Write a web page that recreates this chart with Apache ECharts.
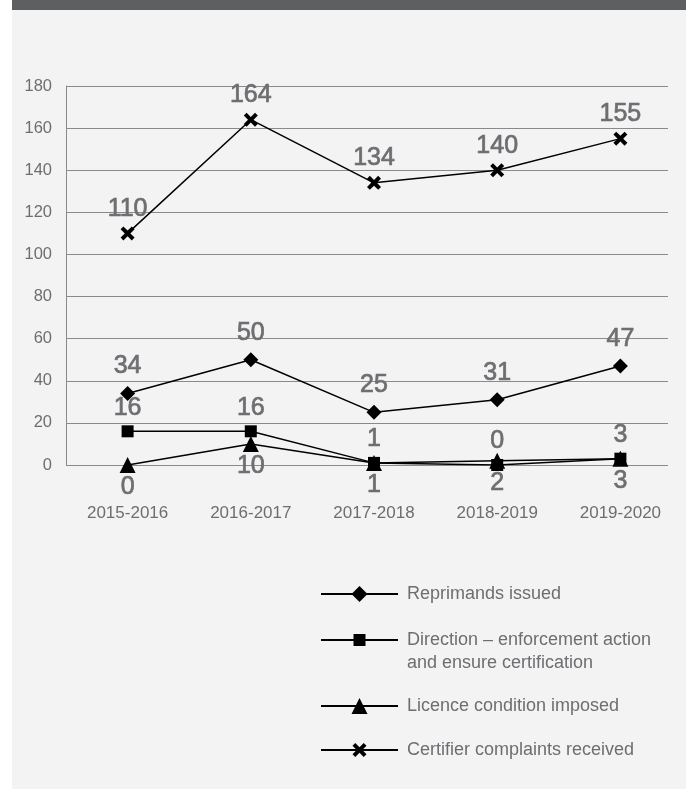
<!DOCTYPE html>
<html>
<head>
<meta charset="utf-8">
<script src="https://cdn.jsdelivr.net/npm/echarts@6/dist/echarts.min.js"></script>
<style>
  html, body { margin: 0; padding: 0; background: #ffffff; }
  #chart { width: 691px; height: 789px; }
</style>
</head>
<body>
<div id="chart"></div>
<script>
// Financial years on the horizontal axis
const categories = ['2015-2016', '2016-2017', '2017-2018', '2018-2019', '2019-2020'];

// Yearly counts per measure
const reprimands = [34, 50, 25, 31, 47];
const directions = [16, 16, 1, 0, 3];
const licenceConditions = [0, 10, 1, 2, 3];
const complaints = [110, 164, 134, 140, 155];

// Series names shown in the legend
const seriesNames = [
  'Reprimands issued',
  'Direction – enforcement action and ensure certification',
  'Licence condition imposed',
  'Certifier complaints received'
];

// Value axis range and step
const yMin = 0;
const yMax = 180;
const yStep = 20;

const textGrey = '#6d6e71';
const gridGrey = '#8a8a8a';
const bodyFont = '"Liberation Sans", Arial, sans-serif';

// Bold "x" marker
const crossPath = 'path://M2,0L5,3L8,0L10,2L7,5L10,8L8,10L5,7L2,10L0,8L3,5L0,2Z';

function lineSeries(name, data, symbol, size, position, distance) {
  return {
    type: 'line',
    name: name,
    data: data,
    xAxisIndex: 0,
    yAxisIndex: 0,
    symbol: symbol,
    symbolSize: size,
    showAllSymbol: true,
    lineStyle: { color: '#000000', width: 1.5 },
    itemStyle: { color: '#000000' },
    label: {
      show: true,
      position: position,
      distance: distance,
      fontFamily: bodyFont,
      fontSize: 25,
      color: textGrey,
      // a thin outline in the same grey gives the value labels a medium weight
      textBorderColor: textGrey,
      textBorderWidth: 0.7
    },
    emphasis: { disabled: true },
    animation: false
  };
}

const legendBase = {
  left: 320,
  padding: 0,
  itemWidth: 77,
  selectedMode: false,
  textStyle: {
    fontFamily: bodyFont,
    fontSize: 18,
    color: textGrey,
    lineHeight: 23,
    padding: [0, 0, 0, 4]
  }
};

const chart = echarts.init(document.getElementById('chart'), null, { renderer: 'canvas' });

chart.setOption({
  animation: false,
  backgroundColor: 'transparent',
  graphic: [
    { type: 'rect', z: -10, shape: { x: 12, y: 0, width: 674, height: 789 }, style: { fill: '#f3f3f3' } },
    { type: 'rect', z: -10, shape: { x: 12, y: 0, width: 674, height: 10 }, style: { fill: '#5e5f61' } }
  ],
  grid: [
    { left: 66, right: 9, top: 86, bottom: 324 },
    { left: 66, right: 23, top: 86, bottom: 324 }
  ],
  xAxis: [
    {
      type: 'category',
      gridIndex: 0,
      data: categories,
      boundaryGap: true,
      axisLine: { show: false },
      axisTick: { show: false },
      splitLine: { show: false },
      axisLabel: { margin: 40, fontFamily: bodyFont, fontSize: 17, color: textGrey }
    },
    { type: 'value', gridIndex: 1, min: 0, max: 1, show: false }
  ],
  yAxis: [
    { type: 'value', gridIndex: 0, min: yMin, max: yMax, interval: yStep, show: false },
    {
      type: 'value',
      gridIndex: 1,
      min: yMin,
      max: yMax,
      interval: yStep,
      axisLine: { show: true, lineStyle: { color: gridGrey, width: 1 } },
      axisTick: { show: false },
      axisLabel: { margin: 14, fontFamily: bodyFont, fontSize: 16.5, color: textGrey },
      splitLine: { show: true, lineStyle: { color: gridGrey, width: 1 } }
    }
  ],
  legend: [
    Object.assign({}, legendBase, { top: 582.5, itemHeight: 20, data: [seriesNames[0]] }),
    Object.assign({}, legendBase, {
      top: 605.5,
      itemHeight: 15,
      data: [seriesNames[1]],
      // leading blank line keeps the marker level with the first text line
      formatter: function (name) {
        return '\n' + name.replace(' and ensure', '\nand ensure');
      }
    }),
    Object.assign({}, legendBase, { top: 694.5, itemHeight: 20, data: [seriesNames[2]] }),
    Object.assign({}, legendBase, { top: 738.5, itemHeight: 17.5, data: [seriesNames[3]] })
  ],
  series: [
    lineSeries(seriesNames[0], reprimands, 'diamond', 15, 'top', 7),
    lineSeries(seriesNames[1], directions, 'rect', 12, 'top', 5),
    lineSeries(seriesNames[2], licenceConditions, 'triangle', 16, 'bottom', 2),
    lineSeries(seriesNames[3], complaints, crossPath, 14, 'top', 5)
  ]
});
</script>
</body>
</html>
